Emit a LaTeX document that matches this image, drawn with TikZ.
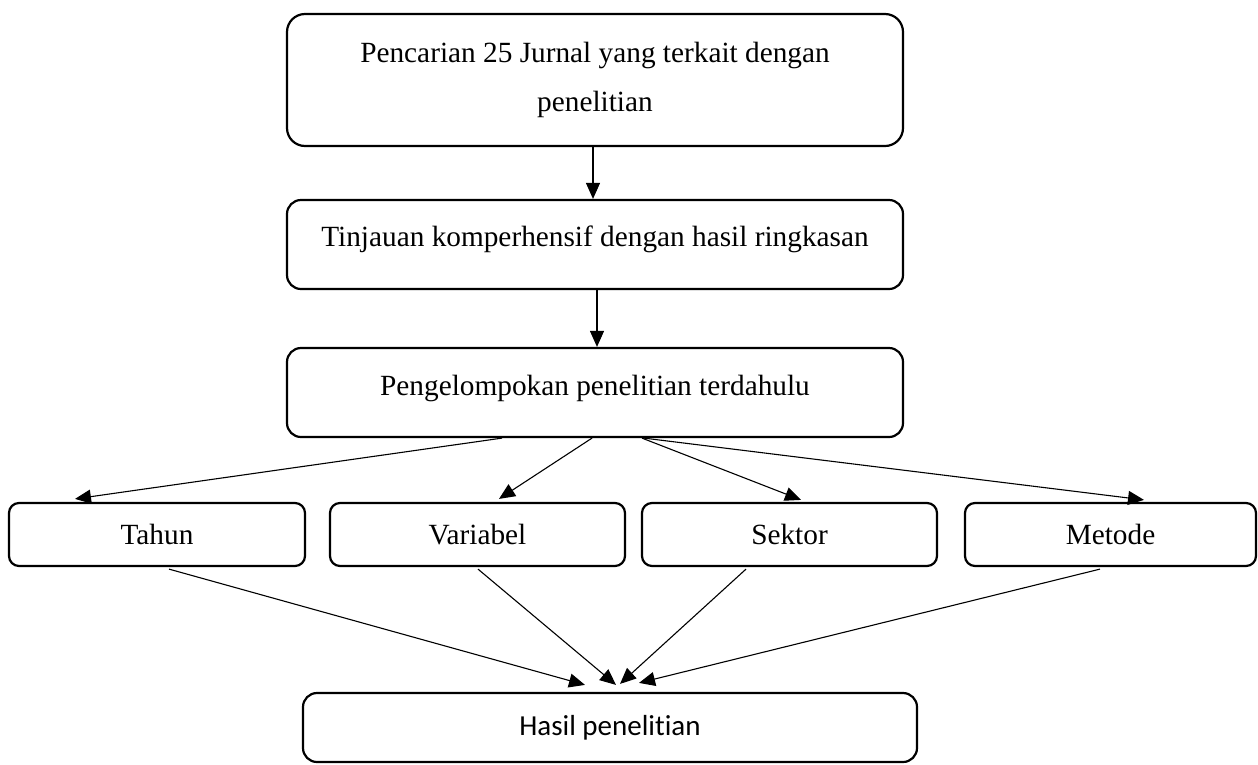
\documentclass[tikz,border=0pt]{standalone}
\usepackage{fontspec}
\setmainfont{Liberation Serif}
\newfontfamily\calibrifont[Ligatures=NoCommon]{Carlito}
\usetikzlibrary{arrows.meta}
\begin{document}
\begin{tikzpicture}[x=1pt,y=-1pt,
  box/.style={draw, line width=2.2pt, inner sep=0pt, align=center,
    font=\fontsize{29.3}{49}\selectfont},
  bigbox/.style={box, minimum width=616pt, rounded corners=18pt},
  midbox/.style={box, minimum width=616pt, minimum height=89pt, rounded corners=14pt},
  rowbox/.style={box, minimum height=63pt, rounded corners=10pt, text height=20.5pt, text depth=0pt},
  resbox/.style={box, minimum width=614pt, minimum height=69pt, rounded corners=14pt,
    text height=20pt, text depth=4pt,
    font=\calibrifont\fontsize{29}{35}\selectfont},
  arr/.style={line width=1.1pt, -{Triangle[length=16pt,width=14pt]}}]
\useasboundingbox (0,0) rectangle (1258,764);

\node[bigbox, minimum height=132pt] (b1) at (595,80)
  {Pencarian 25 Jurnal yang terkait dengan\\penelitian};
\node[midbox, text height=20.5pt, text depth=17.5pt] (b2) at (595,244.5)
  {Tinjauan komperhensif dengan hasil ringkasan};
\node[midbox, text height=20.5pt, text depth=15.5pt] (b3) at (595,392.5)
  {Pengelompokan penelitian terdahulu};

\node[rowbox, minimum width=296pt] (tahun) at (157,534.5) {Tahun};
\node[rowbox, minimum width=295pt] (variabel) at (477.5,534.5) {Variabel};
\node[rowbox, minimum width=295pt] (sektor) at (789.5,534.5) {Sektor};
\node[rowbox, minimum width=291pt] (metode) at (1110.5,534.5) {Metode};

\node[resbox] (hasil) at (610,727.5) {Hasil penelitian};

\draw[arr] ([xshift=-2pt]b1.south) -- ([xshift=-2pt]b2.north);
\draw[arr] ([xshift=2pt]b2.south) -- ([xshift=2pt]b3.north);

\draw[arr] ([xshift=-93pt]b3.south) -- ([xshift=-82pt,yshift=3pt]tahun.north);
\draw[arr] ([xshift=-3pt]b3.south) -- ([xshift=21.5pt,yshift=3pt]variabel.north);
\draw[arr] ([xshift=47pt]b3.south) -- ([xshift=11.5pt,yshift=2pt]sektor.north);
\draw[arr] ([xshift=49pt]b3.south) -- ([xshift=33.5pt,yshift=2pt]metode.north);

\draw[arr] ([xshift=12pt,yshift=-2pt]tahun.south) -- ([xshift=-25pt,yshift=7pt]hasil.north);
\draw[arr] ([xshift=0.5pt,yshift=-2pt]variabel.south) -- ([xshift=6pt,yshift=7pt]hasil.north);
\draw[arr] ([xshift=-43.5pt,yshift=-2pt]sektor.south) -- ([xshift=10pt,yshift=8pt]hasil.north);
\draw[arr] ([xshift=-10.5pt,yshift=-2pt]metode.south) -- ([xshift=29pt,yshift=9pt]hasil.north);
\end{tikzpicture}
\end{document}
